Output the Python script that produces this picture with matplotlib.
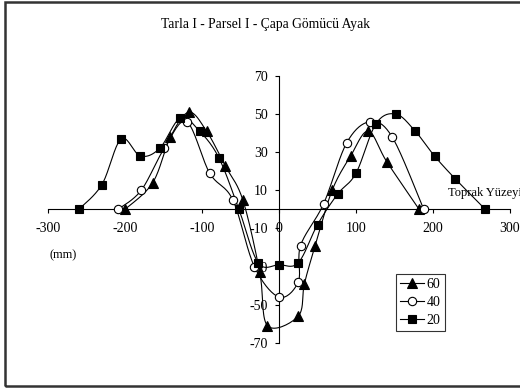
import numpy as np
import matplotlib
matplotlib.use("Agg")
from matplotlib import pyplot as plt
from matplotlib.patches import Rectangle

plt.rcParams['font.family'] = ['Liberation Serif', 'DejaVu Serif']
plt.rcParams['axes.unicode_minus'] = False

# profile readings, x in mm, y in mm
x60 = [-200, -164, -141, -117, -94, -70, -47, -25, -15, 25, 33, 47, 69, 93, 116, 140, 182]
y60 = [0, 14, 38, 51, 41, 23, 5, -33, -61, -56, -39, -19, 10, 28, 41, 25, 0]

x40 = [-209, -179, -149, -120, -90, -60, -32, 0, 25, 28, 58, 88, 118, 147, 188]
y40 = [0, 10, 32, 46, 19, 5, -30, -46, -38, -19, 3, 35, 46, 38, 0]

x20 = [-260, -230, -205, -180, -155, -128, -103, -78, -52, -27, 0, 25, 50, 76, 100, 126, 152, 177, 202, 229, 268]
y20 = [0, 13, 37, 28, 32, 48, 41, 27, 0, -28, -29, -28, -8, 8, 19, 45, 50, 41, 28, 16, 0]

labels = ["60", "40", "20"]
xticks = [-300, -200, -100, 0, 100, 200, 300]
yticks = [-70, -50, -30, -10, 10, 30, 50, 70]


def smooth(xs, ys, sx=0.77, sy=1.91, n=20):
    # excel style smoothed line (cardinal bezier through the points)
    p = np.column_stack([np.array(xs) * sx, np.array(ys) * sy])
    p = np.vstack([p[0], p, p[-1]])
    t = np.linspace(0, 1, n)[:, None]
    out = []
    for i in range(1, len(p) - 2):
        p0, p1, p2, p3 = p[i - 1], p[i], p[i + 1], p[i + 2]
        c1 = p1 + (p2 - p0) / 6
        c2 = p2 - (p3 - p1) / 6
        seg = ((1 - t) ** 3) * p1 + 3 * ((1 - t) ** 2) * t * c1 + 3 * (1 - t) * t ** 2 * c2 + t ** 3 * p2
        out.append(seg)
    out = np.vstack(out)
    return out[:, 0] / sx, out[:, 1] / sy


fig = plt.figure(figsize=(5.2, 3.88), dpi=100)
ax = fig.add_axes([48 / 520, 1 - 342.8 / 388, 462 / 520, 266.8 / 388])

series = [(x60, y60, "^", "black"), (x40, y40, "o", "white"), (x20, y20, "s", "black")]
handles = []
for (xs, ys, m, fc), lab in zip(series, labels):
    sxs, sys_ = smooth(xs, ys)
    ax.plot(sxs, sys_, "-", color="black", lw=0.8, zorder=2)
    ax.plot(xs, ys, m, ms=6.5 if m == "^" else 6, mfc=fc, mec="black", mew=0.8, zorder=3)
    h, = ax.plot([], [], "-", marker=m, color="black", lw=0.8, ms=6.5 if m == "^" else 6,
                 mfc=fc, mec="black", mew=0.8)
    handles.append(h)

ax.set_xlim(-300, 300)
ax.set_ylim(-70, 70)
ax.spines['left'].set_position(('data', 0))
ax.spines['bottom'].set_position(('data', 0))
ax.spines['top'].set_visible(False)
ax.spines['right'].set_visible(False)
for s in ['left', 'bottom']:
    ax.spines[s].set_linewidth(0.8)
ax.set_xticks(xticks)
ax.set_yticks(yticks)
ax.tick_params(axis='x', direction='out', length=3, width=0.8, pad=6, labelsize=10)
ax.tick_params(axis='y', direction='out', length=3, width=0.8, pad=5, labelsize=10)
ax.set_axisbelow(True)
ax.patch.set_visible(False)

ax.text(219, 8.4, "Toprak Yüzeyi", fontsize=9, ha="left", va="center", clip_on=False)
ax.text(-281, -24, "(mm)", fontsize=9, ha="center", va="center")
fig.text(0.511, 0.938, "Tarla I - Parsel I - Çapa Gömücü Ayak", fontsize=9.8, ha="center", va="center")

leg = fig.legend(handles, labels, loc="upper left", bbox_to_anchor=(396 / 520, 1 - 274 / 388),
                 frameon=True, fancybox=False, fontsize=10, handlelength=1.7, handletextpad=0.2,
                 labelspacing=0.35, borderpad=0.3, borderaxespad=0)
leg.get_frame().set_edgecolor("black")
leg.get_frame().set_linewidth(0.8)

fig.patches.append(Rectangle((4.5 / 520, 2.5 / 388), 1.0, 1 - 4.5 / 388, transform=fig.transFigure,
                             fill=False, edgecolor="#333333", lw=1.8, clip_on=False))

fig.savefig("out.png", dpi=100)
